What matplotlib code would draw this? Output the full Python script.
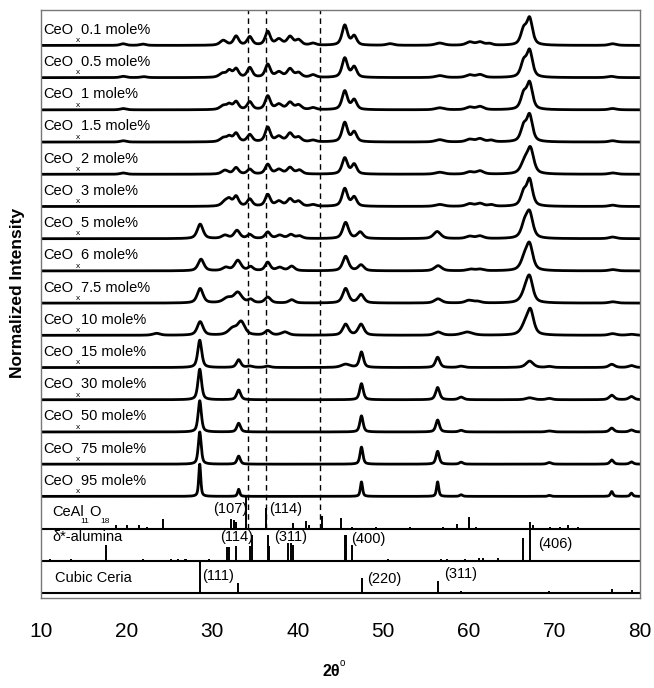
import numpy as np
import matplotlib
matplotlib.use("Agg")
from matplotlib import pyplot as plt

plt.rcParams['font.family'] = ['Liberation Sans', 'DejaVu Sans']

# CeOx loadings, top to bottom
loadings = ["0.1", "0.5", "1", "1.5", "2", "3", "5", "6", "7.5", "10",
            "15", "30", "50", "75", "95"]

# peaks: (2theta, height, fwhm); height 1 = one panel
p_0_1 = [(19.6, 0.05, 0.8), (21.9, 0.04, 0.8), (31.3, 0.15, 0.9), (32.8, 0.28, 0.7),
         (34.4, 0.26, 0.7), (36.5, 0.42, 0.7), (37.8, 0.18, 0.9), (39.1, 0.26, 0.8),
         (40.1, 0.16, 0.8), (41.8, 0.06, 0.8), (45.5, 0.62, 0.75), (46.6, 0.28, 0.7),
         (50.8, 0.05, 1.0), (56.6, 0.07, 1.2), (60.1, 0.1, 1.0), (61.3, 0.1, 1.0),
         (62.4, 0.05, 0.8), (66.4, 0.45, 0.8), (67.1, 0.8, 0.8), (76.8, 0.05, 1.0)]
p_0_5 = [(19.6, 0.04, 0.8), (22.0, 0.03, 0.8), (31.2, 0.12, 0.9), (32.0, 0.2, 0.7),
         (32.8, 0.26, 0.7), (34.4, 0.3, 0.7), (36.5, 0.4, 0.7), (37.8, 0.16, 0.9),
         (39.1, 0.26, 0.8), (40.1, 0.14, 0.8), (41.8, 0.08, 0.8), (45.5, 0.6, 0.75),
         (46.6, 0.32, 0.7), (56.6, 0.06, 1.2), (60.1, 0.08, 1.0), (61.3, 0.09, 1.0),
         (66.4, 0.45, 0.8), (67.1, 0.8, 0.8), (76.6, 0.04, 1.0)]
p_1 = [(19.6, 0.04, 0.8), (31.3, 0.12, 0.9), (32.0, 0.15, 0.7), (32.8, 0.24, 0.7),
       (34.4, 0.24, 0.7), (36.5, 0.42, 0.7), (37.8, 0.16, 0.9), (39.1, 0.22, 0.8),
       (40.1, 0.14, 0.8), (41.8, 0.06, 0.8), (45.5, 0.58, 0.75), (46.6, 0.3, 0.7),
       (56.6, 0.06, 1.2), (60.1, 0.08, 1.0), (61.3, 0.1, 1.0), (66.4, 0.45, 0.8),
       (67.1, 0.8, 0.8), (76.8, 0.04, 1.0)]
p_1_5 = [(19.6, 0.04, 0.8), (31.3, 0.12, 0.9), (32.0, 0.15, 0.7), (32.8, 0.26, 0.7),
         (34.4, 0.22, 0.7), (36.5, 0.45, 0.7), (37.8, 0.16, 0.9), (39.1, 0.26, 0.8),
         (40.1, 0.14, 0.8), (41.8, 0.05, 0.8), (45.5, 0.6, 0.75), (46.6, 0.3, 0.7),
         (56.6, 0.07, 1.2), (60.1, 0.08, 1.0), (61.3, 0.1, 1.0), (62.6, 0.05, 0.8),
         (66.4, 0.45, 0.8), (67.1, 0.8, 0.8), (76.8, 0.04, 1.0)]
p_2 = [(19.6, 0.04, 0.8), (31.5, 0.12, 0.9), (32.8, 0.2, 0.7), (34.4, 0.15, 0.7),
       (36.5, 0.3, 0.7), (37.8, 0.14, 0.9), (39.1, 0.2, 0.8), (40.2, 0.12, 0.8),
       (45.5, 0.5, 0.75), (46.6, 0.3, 0.7), (56.6, 0.06, 1.2), (60.1, 0.07, 1.0),
       (61.3, 0.1, 1.0), (66.5, 0.35, 1.0), (67.2, 0.75, 0.9), (76.8, 0.04, 1.0)]
p_3 = [(31.5, 0.14, 0.9), (32.0, 0.18, 0.7), (32.8, 0.3, 0.7), (34.4, 0.22, 0.7),
       (36.5, 0.36, 0.7), (37.8, 0.15, 0.9), (39.1, 0.22, 0.8), (40.1, 0.15, 0.8),
       (41.8, 0.05, 0.8), (45.5, 0.55, 0.75), (46.6, 0.28, 0.7), (56.6, 0.06, 1.2),
       (60.1, 0.08, 1.0), (61.3, 0.09, 1.0), (62.6, 0.05, 0.8), (66.4, 0.4, 0.8),
       (67.1, 0.8, 0.8), (76.8, 0.04, 1.0)]
p_5 = [(28.6, 0.45, 0.8), (31.5, 0.1, 0.9), (32.9, 0.25, 0.8), (34.4, 0.12, 0.7),
       (36.5, 0.2, 0.7), (37.9, 0.1, 0.9), (39.2, 0.12, 0.8), (40.2, 0.08, 0.8),
       (45.6, 0.5, 0.8), (47.3, 0.2, 0.8), (56.3, 0.22, 1.0), (60.1, 0.07, 1.0),
       (61.3, 0.08, 1.0), (66.5, 0.4, 0.9), (67.1, 0.75, 0.9), (76.8, 0.05, 1.0)]
p_6 = [(28.7, 0.36, 0.8), (31.6, 0.1, 0.9), (33.0, 0.32, 0.9), (34.5, 0.12, 0.7),
       (36.5, 0.26, 0.7), (37.9, 0.1, 0.9), (39.3, 0.14, 0.8), (45.6, 0.45, 0.8),
       (47.4, 0.18, 0.8), (56.4, 0.16, 1.0), (60.2, 0.05, 1.0), (61.3, 0.05, 1.0),
       (66.5, 0.35, 1.0), (67.1, 0.75, 0.9), (76.8, 0.04, 1.0)]
p_7_5 = [(28.6, 0.45, 0.8), (31.8, 0.15, 1.2), (33.0, 0.32, 1.1), (34.5, 0.1, 0.7),
         (36.5, 0.18, 0.8), (39.3, 0.1, 0.8), (45.6, 0.45, 0.8), (47.4, 0.26, 0.8),
         (56.4, 0.13, 1.0), (60.0, 0.08, 1.0), (61.0, 0.05, 1.0), (66.6, 0.3, 1.1),
         (67.1, 0.7, 0.9), (76.8, 0.04, 1.0)]
p_10 = [(23.5, 0.06, 1.0), (28.6, 0.42, 0.8), (32.4, 0.2, 1.2), (33.4, 0.4, 1.0),
        (36.5, 0.14, 0.8), (38.5, 0.1, 1.0), (45.6, 0.34, 0.8), (47.4, 0.34, 0.8),
        (56.4, 0.1, 1.0), (59.8, 0.1, 1.5), (66.6, 0.3, 1.1), (67.2, 0.7, 0.9),
        (76.8, 0.05, 1.0), (79.0, 0.03, 1.0)]
p_15 = [(28.55, 0.85, 0.55), (33.1, 0.24, 0.6), (34.4, 0.04, 0.8), (36.5, 0.04, 0.8),
        (45.6, 0.1, 1.2), (47.45, 0.48, 0.55), (56.35, 0.32, 0.6), (59.1, 0.04, 0.8),
        (67.1, 0.2, 1.0), (69.4, 0.03, 0.8), (76.7, 0.1, 0.8), (79.0, 0.06, 0.8)]
p_30 = [(28.55, 0.95, 0.5), (33.1, 0.3, 0.55), (47.45, 0.5, 0.5), (56.35, 0.38, 0.55),
        (59.1, 0.08, 0.7), (67.1, 0.06, 1.0), (69.4, 0.04, 0.8), (76.7, 0.14, 0.7),
        (79.0, 0.1, 0.7)]
p_50 = [(28.55, 0.97, 0.45), (33.1, 0.27, 0.5), (47.45, 0.5, 0.45), (56.35, 0.37, 0.5),
        (59.1, 0.05, 0.6), (69.4, 0.03, 0.8), (76.7, 0.12, 0.6), (79.0, 0.06, 0.6)]
p_75 = [(28.55, 1.0, 0.4), (33.1, 0.25, 0.45), (47.45, 0.53, 0.4), (56.35, 0.4, 0.45),
        (59.1, 0.06, 0.5), (69.4, 0.05, 0.6), (76.7, 0.13, 0.5), (79.0, 0.07, 0.5)]
p_95 = [(28.55, 1.0, 0.28), (33.1, 0.22, 0.3), (47.45, 0.45, 0.3), (56.35, 0.45, 0.3),
        (59.1, 0.05, 0.4), (69.4, 0.03, 0.4), (76.7, 0.15, 0.35), (79.0, 0.1, 0.35)]

sample_peaks = [p_0_1, p_0_5, p_1, p_1_5, p_2, p_3, p_5, p_6, p_7_5, p_10,
                p_15, p_30, p_50, p_75, p_95]

# reference stick patterns
ceal_pos = [18.8, 20.1, 21.5, 22.4, 24.2, 27.4, 32.2, 32.5, 32.8, 34.0, 36.3, 37.6,
            38.0, 39.4, 41.0, 41.3, 42.8, 45.0, 46.3, 49.2, 50.3, 53.1, 57.0, 58.6,
            60.0, 60.8, 63.3, 67.2, 67.5, 69.5, 70.6, 71.6, 72.8, 75.9, 76.8, 77.4]
ceal_h = [0.12, 0.12, 0.1, 0.04, 0.3, 0.03, 0.3, 0.28, 0.2, 1.0, 0.65, 0.03,
          0.03, 0.18, 0.25, 0.1, 0.4, 0.34, 0.04, 0.06, 0.03, 0.06, 0.06, 0.15,
          0.37, 0.06, 0.03, 0.22, 0.1, 0.06, 0.06, 0.1, 0.06, 0.03, 0.03, 0.03]
delta_pos = [11.0, 13.5, 17.6, 21.9, 23.5, 25.2, 26.0, 26.8, 27.0, 27.8, 29.6, 31.7,
             32.0, 32.8, 34.4, 34.6, 36.5, 36.7, 38.9, 39.2, 39.5, 41.3, 45.5, 45.7,
             46.4, 47.6, 50.6, 53.5, 56.8, 57.4, 59.6, 61.2, 61.7, 63.4, 65.5, 66.3, 67.1]
delta_h = [0.05, 0.06, 0.5, 0.06, 0.03, 0.06, 0.06, 0.06, 0.06, 0.03, 0.06, 0.43,
           0.43, 0.47, 0.47, 0.8, 0.8, 0.45, 0.55, 0.55, 0.5, 0.03, 0.8, 0.8,
           0.5, 0.03, 0.06, 0.03, 0.06, 0.06, 0.06, 0.1, 0.1, 0.1, 0.03, 0.7, 1.0]
ceria_pos = [28.55, 33.08, 47.48, 56.34, 59.09, 69.4, 76.7, 79.07]
ceria_h = [1.0, 0.3, 0.47, 0.37, 0.06, 0.06, 0.13, 0.1]

dashed_pos = [34.15, 36.35, 42.6]

# (hkl) labels: text, 2theta of left edge, height above panel baseline
ceal_hkl = [("(107)", 30.1, 0.49), ("(114)", 36.64, 0.49)]
delta_hkl = [("(114)", 30.92, 0.6), ("(311)", 37.23, 0.6), ("(400)", 46.19, 0.56),
             ("(406)", 68.08, 0.41)]
ceria_hkl = [("(111)", 28.78, 0.4), ("(220)", 48.1, 0.31), ("(311)", 57.1, 0.47)]


def trace(x, peaks, eta=0.6):
    # pseudo-Voigt sum
    y = np.zeros_like(x)
    for pos, h, w in peaks:
        u = (x - pos) / (w / 2)
        y += h * (eta / (1 + u ** 2) + (1 - eta) * np.exp(-np.log(2) * u ** 2))
    return y


fig = plt.figure(figsize=(6.54, 6.88), dpi=100)
ax = fig.add_axes([41 / 654, 1 - 598 / 688, 599 / 654, 588 / 688])

x = np.linspace(10, 80, 3000)
n = len(loadings)
for i, (lab, peaks) in enumerate(zip(loadings, sample_peaks)):
    base = 3 + (n - 1 - i)
    ax.plot(x, base + trace(x, peaks), color='black', lw=2.0, solid_joinstyle='round')
    ax.text(10.3, base + 0.36, "CeO", fontsize=10.5, va='baseline')
    ax.text(14.05, base + 0.1, "x", fontsize=6, va='baseline')
    ax.text(14.7, base + 0.36, lab + " mole%", fontsize=10.5, va='baseline')

# stick panels
for base, pos, h, hkl in [(2, ceal_pos, ceal_h, ceal_hkl),
                          (1, delta_pos, delta_h, delta_hkl),
                          (0, ceria_pos, ceria_h, ceria_hkl)]:
    ax.axhline(base, color='black', lw=1.5)
    ax.vlines(pos, base, base + np.array(h), color='black', lw=1.4)
    for t, px, py in hkl:
        ax.text(px, base + py, t, fontsize=10.5, va='baseline')

ax.text(11.29, 2.38, "CeAl", fontsize=10.5, va='baseline')
ax.text(15.6, 2.38, "O", fontsize=10.5, va='baseline')
ax.text(14.6, 2.16, "11", fontsize=6, va='baseline')
ax.text(16.9, 2.16, "18", fontsize=6, va='baseline')
ax.text(11.29, 1.6, "δ*-alumina", fontsize=10.5, va='baseline')
ax.text(11.64, 0.35, "Cubic Ceria", fontsize=10.5, va='baseline')

for d in dashed_pos:
    ax.plot([d, d], [2, 18.2], color='black', lw=1.0, ls=(0, (4, 3)))

ax.set_xlim(10, 80)
ax.set_ylim(-0.155, 18.1)
ax.set_xticks(range(10, 81, 10))
ax.set_yticks([])
ax.tick_params(axis='x', length=0, pad=17, labelsize=15)
for s in ax.spines.values():
    s.set_color('#777777')
    s.set_linewidth(1.0)

fig.text(18 / 654, 1 - 293 / 688, "Normalized Intensity", rotation=90,
         fontsize=12.5, fontweight='bold', ha='center', va='center')
fig.text(331 / 654, 1 - 672 / 688, "2θ", fontsize=11.5, fontweight='bold',
         ha='center', va='center')
fig.text(340 / 654, 1 - 663 / 688, "o", fontsize=7, ha='left', va='center')

fig.savefig("out.png", dpi=100)
